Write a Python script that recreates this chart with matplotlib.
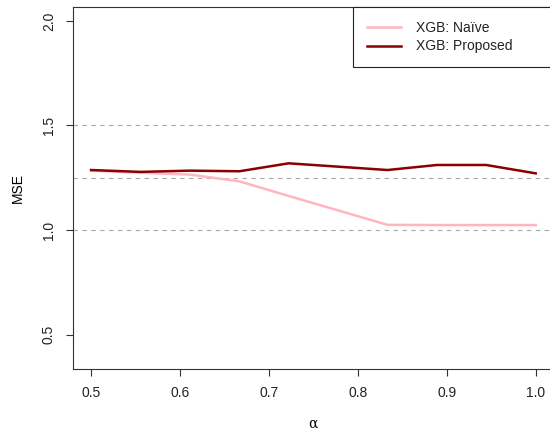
import numpy as np
import matplotlib
matplotlib.use("Agg")
import matplotlib.pyplot as plt

plt.rcParams['font.family'] = ['Liberation Sans', 'DejaVu Sans']

alpha = [0.5, 0.5556, 0.6111, 0.6667, 0.7222, 0.7778, 0.8333, 0.8889, 0.9444, 1.0]
mse_naive = [1.284, 1.274, 1.265, 1.233, 1.163, 1.094, 1.025, 1.024, 1.024, 1.024]
mse_proposed = [1.287, 1.278, 1.284, 1.281, 1.319, 1.303, 1.287, 1.311, 1.311, 1.271]
ref_lines = [1.0, 1.25, 1.5]
x_ticks = [0.5, 0.6, 0.7, 0.8, 0.9, 1.0]
y_ticks = [0.5, 1.0, 1.5, 2.0]

fig = plt.figure(figsize=(5.5, 4.32), dpi=100)
ax = fig.add_axes([0.1333, 0.1458, 0.873, 0.837])

for h in ref_lines:
    ax.axhline(h, color='#a9a9a9', lw=0.8, ls=(0, (4, 4)), zorder=1)

# trailing no-break spaces widen the legend box to the right like the original
pad = '\u00a0' * 7
ax.plot(alpha, mse_naive, color='#ffb6c1', lw=1.8, label='XGB: Naïve', zorder=2)
ax.plot(alpha, mse_proposed, color='#8b0000', lw=1.8, label='XGB: Proposed' + pad, zorder=3)

ax.set_xlim(0.48, 1.02)
ax.set_ylim(0.336, 2.064)
ax.set_xticks(x_ticks)
ax.set_xticklabels([f'{v:.1f}' for v in x_ticks])
ax.set_yticks(y_ticks)
ax.set_yticklabels([f'{v:.1f}' for v in y_ticks], rotation=90, va='center')

for s in ax.spines.values():
    s.set_color('#333333')
    s.set_linewidth(0.8)
ax.tick_params(direction='out', length=5, width=0.8, color='#333333',
               labelsize=10, labelcolor='#222222', pad=7.5)

ax.set_ylabel('MSE', fontsize=10, labelpad=12)
ax.set_xlabel('α', fontsize=10, family='DejaVu Serif', labelpad=12)

leg = ax.legend(loc='upper right', bbox_to_anchor=(1.0, 1.0), borderaxespad=0,
                fancybox=False, edgecolor='#222222', framealpha=1, fontsize=10,
                handlelength=2.4, handletextpad=1.1, borderpad=1.0,
                labelspacing=0.3)
leg.get_frame().set_linewidth(0.8)
for t in leg.get_texts():
    t.set_color('#222222')

fig.savefig('out.png', dpi=100)
